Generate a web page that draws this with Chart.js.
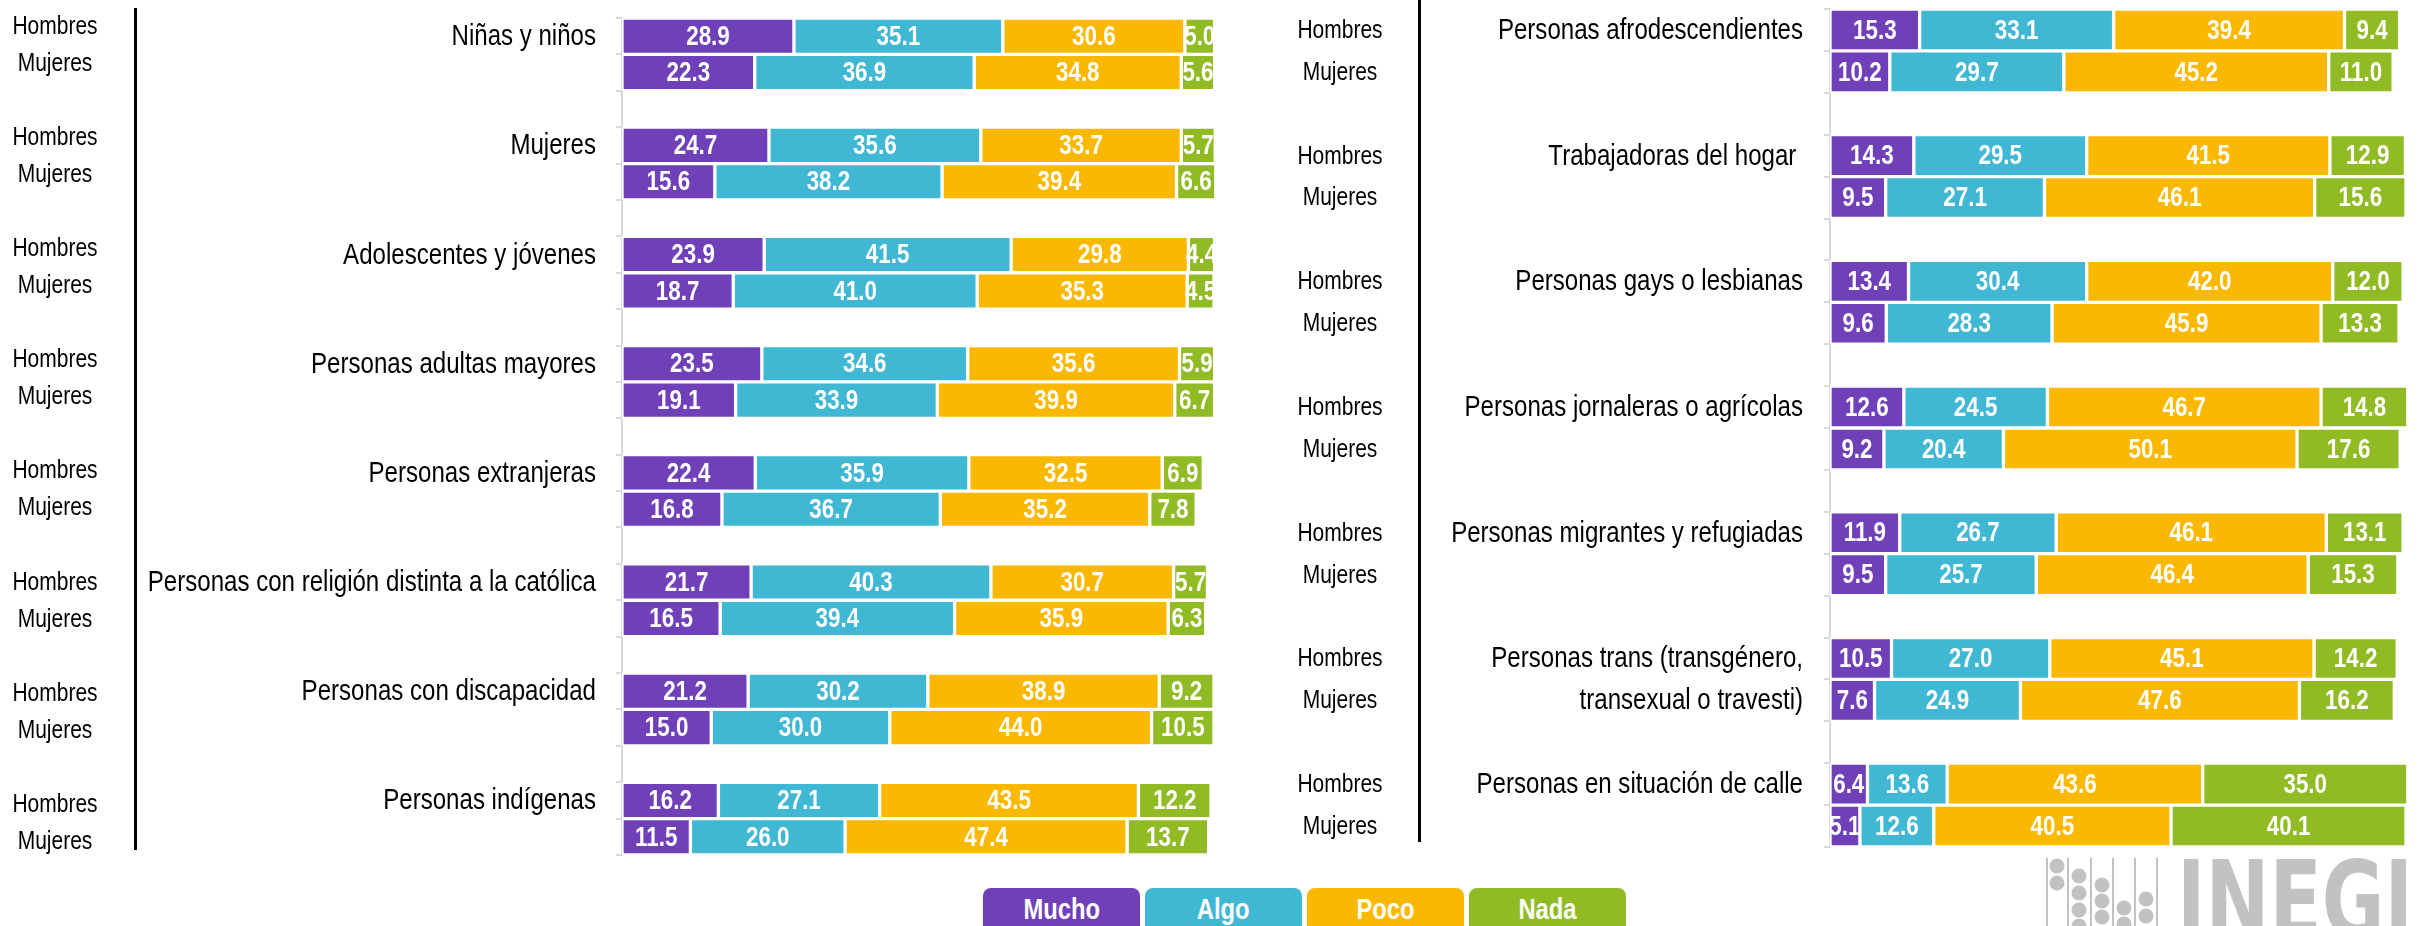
<!DOCTYPE html>
<html lang="es">
<head>
<meta charset="utf-8">
<title>Percepción de respeto a los derechos por grupo de población</title>
<script src="https://cdn.jsdelivr.net/npm/chart.js@4/dist/chart.umd.min.js"></script>
<style>
  html, body { margin: 0; padding: 0; background: #fff; }
  body { width: 2420px; height: 926px; position: relative; overflow: hidden;
         font-family: 'Liberation Sans', Arial, sans-serif; }
  .panel { position: absolute; top: 0; height: 870px; }
  #panelIzq { left: 0; width: 1260px; }
  #panelDer { left: 1280px; width: 1140px; }
  #leyenda { position: absolute; left: 983px; top: 888px; display: flex; gap: 5px; }
  .caja { width: 157px; height: 42px; line-height: 42px; border-radius: 8px 8px 0 0;
          color: #fff; font-weight: bold; font-size: 29px; text-align: center; }
  .caja span { display: inline-block; transform: scaleX(0.82); }
  #logo { position: absolute; left: 2030px; top: 850px; }
</style>
</head>
<body>
<div class="panel" id="panelIzq"><canvas id="graficaIzq"></canvas></div>
<div class="panel" id="panelDer"><canvas id="graficaDer"></canvas></div>
<div id="leyenda"></div>
<svg id="logo" width="390" height="76" viewBox="0 0 390 76">
  <g stroke="#c2c2c2" stroke-width="2">
    <line x1="17" y1="8" x2="17" y2="76"/><line x1="38" y1="8" x2="38" y2="76"/>
    <line x1="61" y1="8" x2="61" y2="76"/><line x1="83" y1="8" x2="83" y2="76"/>
    <line x1="105" y1="8" x2="105" y2="76"/><line x1="127" y1="8" x2="127" y2="76"/>
  </g>
  <g fill="#c2c2c2">
    <circle cx="27" cy="16" r="7.5"/><circle cx="27" cy="33" r="7.5"/>
    <circle cx="49" cy="26" r="7.5"/><circle cx="49" cy="43" r="7.5"/><circle cx="49" cy="60" r="7.5"/><circle cx="49" cy="76" r="7.5"/>
    <circle cx="72" cy="35" r="7.5"/><circle cx="72" cy="51" r="7.5"/><circle cx="72" cy="67" r="7.5"/>
    <circle cx="94" cy="58" r="7.5"/><circle cx="94" cy="74" r="7.5"/>
    <circle cx="116" cy="49" r="7.5"/><circle cx="116" cy="66" r="7.5"/>
    <text x="147" y="62" transform="scale(1,1.4)" font-family="DejaVu Sans" font-weight="bold" font-size="76" textLength="236" lengthAdjust="spacingAndGlyphs">INEGI</text>
  </g>
</svg>

<script>
// Respuestas y colores
const respuestas = ['Mucho', 'Algo', 'Poco', 'Nada'];
const colores = ['#6f40b7', '#41b8d3', '#fab800', '#91bb24'];
const sexos = ['Hombres', 'Mujeres'];

// Panel izquierdo: cada arreglo va Hombres, Mujeres por grupo
const gruposIzq = [
    'Niñas y niños',
    'Mujeres',
    'Adolescentes y jóvenes',
    'Personas adultas mayores',
    'Personas extranjeras',
    'Personas con religión distinta a la católica',
    'Personas con discapacidad',
    'Personas indígenas'
];
const muchoIzq = [28.9, 22.3, 24.7, 15.6, 23.9, 18.7, 23.5, 19.1, 22.4, 16.8, 21.7, 16.5, 21.2, 15.0, 16.2, 11.5];
const algoIzq  = [35.1, 36.9, 35.6, 38.2, 41.5, 41.0, 34.6, 33.9, 35.9, 36.7, 40.3, 39.4, 30.2, 30.0, 27.1, 26.0];
const pocoIzq  = [30.6, 34.8, 33.7, 39.4, 29.8, 35.3, 35.6, 39.9, 32.5, 35.2, 30.7, 35.9, 38.9, 44.0, 43.5, 47.4];
const nadaIzq  = [5.0, 5.6, 5.7, 6.6, 4.4, 4.5, 5.9, 6.7, 6.9, 7.8, 5.7, 6.3, 9.2, 10.5, 12.2, 13.7];

// Panel derecho
const gruposDer = [
    'Personas afrodescendientes',
    'Trabajadoras del hogar ',
    'Personas gays o lesbianas',
    'Personas jornaleras o agrícolas',
    'Personas migrantes y refugiadas',
    'Personas trans (transgénero,\ntransexual o travesti)',
    'Personas en situación de calle'
];
const muchoDer = [15.3, 10.2, 14.3, 9.5, 13.4, 9.6, 12.6, 9.2, 11.9, 9.5, 10.5, 7.6, 6.4, 5.1];
const algoDer  = [33.1, 29.7, 29.5, 27.1, 30.4, 28.3, 24.5, 20.4, 26.7, 25.7, 27.0, 24.9, 13.6, 12.6];
const pocoDer  = [39.4, 45.2, 41.5, 46.1, 42.0, 45.9, 46.7, 50.1, 46.1, 46.4, 45.1, 47.6, 43.6, 40.5];
const nadaDer  = [9.4, 11.0, 12.9, 15.6, 12.0, 13.3, 14.8, 17.6, 13.1, 15.3, 14.2, 16.2, 35.0, 40.1];

const fuente = "'Liberation Sans', Arial, sans-serif";

// Inserta un renglón vacío entre cada par Hombres/Mujeres
function conRenglones(valores) {
    const salida = [];
    for (let i = 0; i < valores.length; i += 2) {
        if (i > 0) salida.push(null);
        salida.push(valores[i], valores[i + 1]);
    }
    return salida;
}

function etiquetasGrupo(grupos) {
    const salida = [];
    grupos.forEach((g, i) => {
        const lineas = g.split('\n');
        if (i > 0) salida.push('');
        salida.push(lineas[0], lineas[1] || '');
    });
    return salida;
}

function etiquetasSexo(n) {
    const salida = [];
    for (let i = 0; i < n; i++) {
        if (i > 0) salida.push('');
        salida.push(sexos[0], sexos[1]);
    }
    return salida;
}

// Letra angosta, como Arial Narrow
function textoAngosto(ctx, texto, x, y, escala) {
    ctx.save();
    ctx.translate(x, y);
    ctx.scale(escala, 1);
    ctx.fillText(texto, 0, 0);
    ctx.restore();
}

// Valores dentro de cada barra, etiquetas de los ejes y raya negra
const textos = {
    id: 'textos',
    afterDatasetsDraw(chart, args, opts) {
        const ctx = chart.ctx;
        ctx.save();
        ctx.textBaseline = 'middle';

        ctx.font = 'bold 28px ' + fuente;
        ctx.fillStyle = '#fff';
        ctx.textAlign = 'center';
        chart.data.datasets.forEach((ds, i) => {
            chart.getDatasetMeta(i).data.forEach((bar, j) => {
                const v = ds.data[j];
                if (v === null || v === undefined) return;
                textoAngosto(ctx, v.toFixed(1), (bar.x + bar.base) / 2, bar.y + 1, 0.8);
            });
        });

        const ejeGrupo = chart.scales.y;
        const ejeSexo = chart.scales.sexo;
        ctx.fillStyle = '#000';
        ctx.font = '29px ' + fuente;
        ctx.textAlign = 'right';
        chart.data.labels.forEach((lab, i) => {
            if (lab) textoAngosto(ctx, lab, ejeGrupo.right - 6 - opts.sepGrupo, ejeGrupo.getPixelForTick(i) + 1, 0.83);
        });

        // el eje de sexo tiene su propio recorrido vertical
        ctx.font = '25px ' + fuente;
        ctx.textAlign = 'center';
        const etiq = ejeSexo.getLabels();
        const [y0, y1] = opts.rangoSexo || [ejeSexo.getPixelForTick(0), ejeSexo.getPixelForTick(etiq.length - 1)];
        etiq.forEach((lab, i) => {
            const y = y0 + (y1 - y0) * i / (etiq.length - 1);
            if (lab) textoAngosto(ctx, lab, ejeSexo.left + opts.centroSexo, y + 1, 0.84);
        });

        ctx.strokeStyle = '#000';
        ctx.lineWidth = 3;
        ctx.beginPath();
        ctx.moveTo(ejeSexo.right - 1.5, opts.raya[0]);
        ctx.lineTo(ejeSexo.right - 1.5, opts.raya[1]);
        ctx.stroke();
        ctx.restore();
    }
};

function crearGrafica(id, grupos, series, cfg) {
    const datasets = series.map((s, i) => ({
        label: respuestas[i],
        data: conRenglones(s),
        backgroundColor: colores[i],
        borderColor: '#fff',
        borderWidth: 2,
        borderSkipped: false,
        barPercentage: 1,
        categoryPercentage: 1
    }));
    return new Chart(document.getElementById(id), {
        type: 'bar',
        data: { labels: etiquetasGrupo(grupos), datasets: datasets },
        options: {
            indexAxis: 'y',
            responsive: true,
            maintainAspectRatio: false,
            animation: false,
            layout: { padding: cfg.padding },
            plugins: {
                legend: { display: false },
                tooltip: { enabled: false },
                textos: { sepGrupo: cfg.sepGrupo, centroSexo: cfg.centroSexo, raya: cfg.raya, rangoSexo: cfg.rangoSexo }
            },
            scales: {
                x: { stacked: true, min: 0, max: 100, display: false },
                y: {
                    stacked: true,
                    weight: 0,
                    offset: true,
                    grid: { offset: true, drawOnChartArea: false, drawTicks: true, tickLength: 6, color: '#d9d9d9', lineWidth: 2 },
                    border: { display: true, color: '#d9d9d9', width: 2 },
                    ticks: { display: false, autoSkip: false },
                    afterFit: s => { s.width = cfg.anchoGrupo; }
                },
                sexo: {
                    type: 'category',
                    axis: 'y',
                    position: 'left',
                    weight: 1,
                    offset: true,
                    labels: etiquetasSexo(grupos.length),
                    grid: { display: false },
                    border: { display: false },
                    ticks: { display: false, autoSkip: false },
                    afterFit: s => { s.width = cfg.anchoSexo; }
                }
            }
        },
        plugins: [textos]
    });
}

crearGrafica('graficaIzq', gruposIzq, [muchoIzq, algoIzq, pocoIzq, nadaIzq], {
    padding: { top: 18, bottom: 15, left: 0, right: 43 },
    anchoSexo: 137, anchoGrupo: 485, centroSexo: 55, sepGrupo: 20,
    raya: [8, 850], rangoSexo: [26, 841]
});

crearGrafica('graficaDer', gruposDer, [muchoDer, algoDer, pocoDer, nadaDer], {
    padding: { top: 9, bottom: 23, left: 0, right: 4 },
    anchoSexo: 141, anchoGrupo: 409, centroSexo: 60, sepGrupo: 21,
    raya: [0, 842], rangoSexo: null
});

// Leyenda
const leyenda = document.getElementById('leyenda');
respuestas.forEach((r, i) => {
    const caja = document.createElement('div');
    caja.className = 'caja';
    caja.style.background = colores[i];
    const texto = document.createElement('span');
    texto.textContent = r;
    caja.appendChild(texto);
    leyenda.appendChild(caja);
});
</script>
</body>
</html>
